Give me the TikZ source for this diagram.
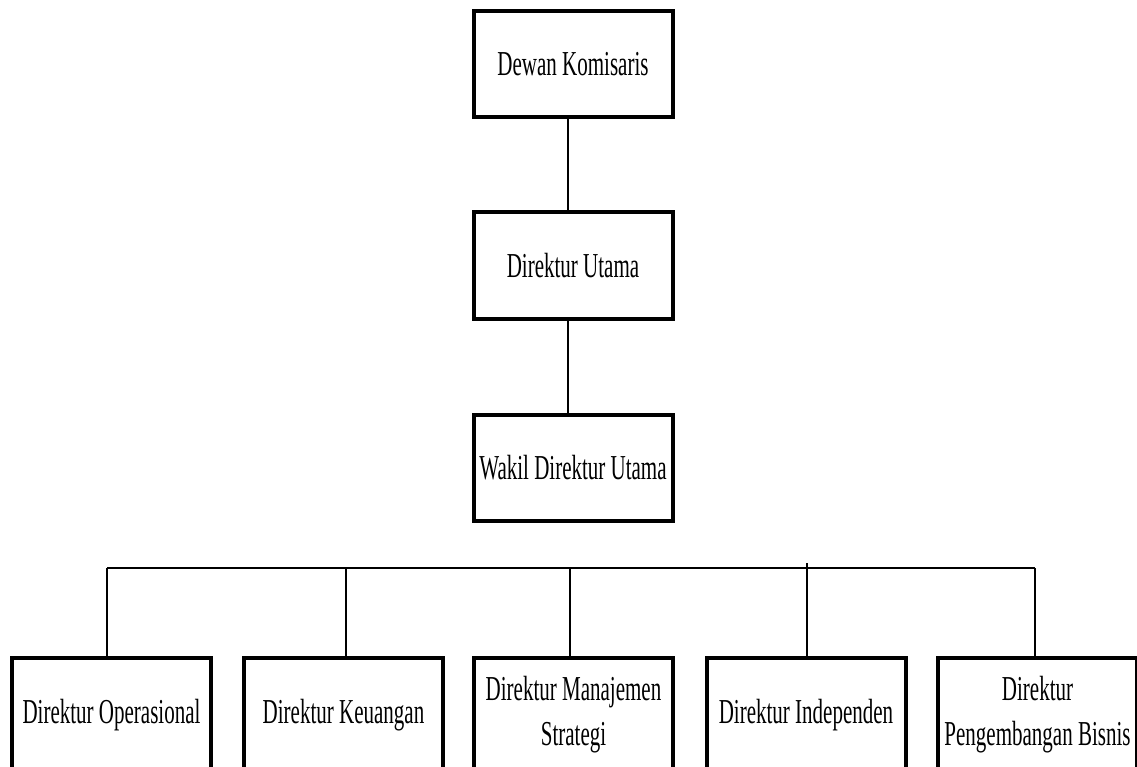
\documentclass[tikz,border=0pt]{standalone}
\usepackage{fontspec}
\newfontfamily\condfont[FakeStretch=0.6]{Liberation Serif}
\begin{document}
\begin{tikzpicture}[x=1pt,y=-1pt,
  box/.style={draw=black,line width=4pt,fill=white,rectangle,minimum width=199pt,minimum height=106pt,inner sep=0pt,align=center,
    font=\condfont\fontsize{35}{45}\selectfont},
  conn/.style={draw=black,line width=1.5pt}]
\useasboundingbox (0,0) rectangle (1137,767);
\clip (0,0) rectangle (1137,767);
\fill[white] (0,0) rectangle (1137,767);
\node[box] (dk) at (573,64) {Dewan Komisaris};
\node[box] (du) at (573,265.5) {Direktur Utama};
\node[box] (wdu) at (573,467.5) {Wakil Direktur Utama};
\node[box,minimum height=114pt] (b1) at (111.5,715) {Direktur Operasional};
\node[box,minimum height=114pt] (b2) at (343.5,715) {Direktur Keuangan};
\node[box,minimum height=114pt] (b3) at (573.5,715) {Direktur Manajemen\\Strategi};
\node[box,minimum height=114pt] (b4) at (806,715) {Direktur Independen};
\node[box,minimum height=114pt] (b5) at (1037.5,715) {Direktur\\Pengembangan Bisnis};
\coordinate (busL) at (107,568);
\coordinate (busR) at (1035,568);
\coordinate (t2) at (346,568);
\coordinate (t3) at (570,568);
\coordinate (t4) at (807,563);
\draw[conn] ([xshift=-5pt]dk.south) -- ([xshift=-5pt]du.north);
\draw[conn] ([xshift=-5pt]du.south) -- ([xshift=-5pt]wdu.north);
\draw[conn] (busL) -- (busR);
\draw[conn] (busL) -- (busL |- b1.north);
\draw[conn] (t2) -- (t2 |- b2.north);
\draw[conn] (t3) -- (t3 |- b3.north);
\draw[conn] (t4) -- (t4 |- b4.north);
\draw[conn] (busR) -- (busR |- b5.north);
\end{tikzpicture}
\end{document}
